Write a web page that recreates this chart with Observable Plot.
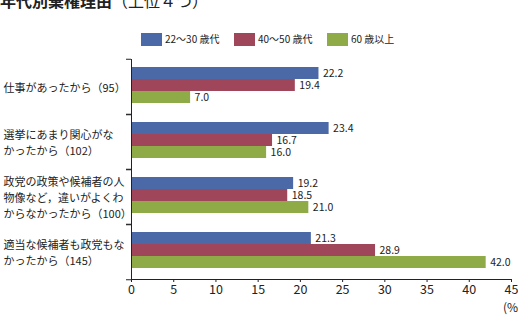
<!DOCTYPE html>
<html>
<head>
<meta charset="utf-8">
<script src="https://cdn.jsdelivr.net/npm/d3@7"></script>
<script src="https://cdn.jsdelivr.net/npm/@observablehq/plot@0.6"></script>
<style>
  html, body { margin: 0; padding: 0; background: #fff; }
  #chart { position: relative; width: 518px; height: 322px; overflow: hidden;
           font-family: "Noto Sans CJK JP", "Noto Sans", sans-serif; color: #222; }
  #chart svg { position: absolute; left: 0; top: 0; }
  .title { position: absolute; left: 0; top: -8px; font-size: 16px; line-height: 16px;
           font-weight: bold; white-space: nowrap; }
  .title span { font-weight: normal; }
  .legend { position: absolute; top: 32px; left: 0; font-size: 10px; line-height: 14px; }
  .legend .item { position: absolute; white-space: nowrap; display: flex; align-items: center; }
  .legend .sw { display: inline-block; width: 21px; height: 13px; margin-right: 3px; }
  .unit { position: absolute; left: 503px; top: 300px; font-size: 12px; line-height: 14px; }
</style>
</head>
<body>
<div id="chart">
  <div class="title">年代別棄権理由<span>（上位４つ）</span></div>
  <div class="legend" id="legend"></div>
  <div class="unit">(%)</div>
</div>
<script>
// Reasons for abstaining (top four), share by age group
const categories = [
  "仕事があったから（95）",
  "選挙にあまり関心がな\nかったから（102）",
  "政党の政策や候補者の人\n物像など，違いがよくわ\nからなかったから（100）",
  "適当な候補者も政党もな\nかったから（145）"
];
const series = ["22～30 歳代", "40～50 歳代", "60 歳以上"];
const age22to30 = [22.2, 23.4, 19.2, 21.3];
const age40to50 = [19.4, 16.7, 18.5, 28.9];
const age60plus = [7.0, 16.0, 21.0, 42.0];
const colors = ["#4b69a6", "#a0465b", "#8fab48"];
const xTicks = [0, 5, 10, 15, 20, 25, 30, 35, 40, 45];

const valuesBySeries = [age22to30, age40to50, age60plus];
const rows = [];
series.forEach((s, si) => {
  categories.forEach((c, ci) => {
    rows.push({category: c, series: s, value: valuesBySeries[si][ci]});
  });
});

// legend
const legend = document.getElementById("legend");
const legendLeft = [141, 234, 327];
series.forEach((s, i) => {
  const item = document.createElement("div");
  item.className = "item";
  item.style.left = legendLeft[i] + "px";
  item.innerHTML = `<span class="sw" style="background:${colors[i]}"></span><span>${s}</span>`;
  legend.appendChild(item);
});

const facetHeight = (322 - 58 - 42) / categories.length;

const chart = Plot.plot({
  width: 518,
  height: 322,
  marginTop: 58,
  marginBottom: 42,
  marginLeft: 131,
  marginRight: 7,
  style: {fontFamily: '"Noto Sans CJK JP", "Noto Sans", sans-serif', color: "#222", background: "transparent"},
  x: {domain: [0, 45], ticks: xTicks, label: null},
  fy: {domain: categories, padding: 0, label: null},
  y: {domain: series, paddingInner: 0, paddingOuter: 0.635, align: 0.4, axis: null},
  color: {domain: series, range: colors},
  marks: [
    Plot.barX(rows, {fy: "category", y: "series", x: "value", fill: "series"}),
    Plot.text(rows, {fy: "category", y: "series", x: "value", text: d => d.value.toFixed(1),
      textAnchor: "start", dx: 4, fontSize: 10.5, fill: "#222"}),
    Plot.text(categories, {fy: d => d, text: d => d, frameAnchor: "left", textAnchor: "start",
      dx: -128, fontSize: 11, lineHeight: 1.45, fill: "#222"}),
    Plot.ruleX([0], {stroke: "#222", strokeWidth: 1}),
    Plot.axisFy({anchor: "left", text: null, label: null, tickSize: 5, dy: -facetHeight / 2, stroke: "#222"}),
    Plot.axisFy({anchor: "left", text: null, label: null, tickSize: 5, dy: facetHeight / 2, stroke: "#222"}),
    Plot.axisX({ticks: xTicks, tickSize: 3, tickPadding: 3, fontSize: 12.5, label: null, stroke: "#222", fill: "#222"}),
    Plot.frame({anchor: "bottom", facet: "super", stroke: "#222"})
  ]
});
document.getElementById("chart").prepend(chart);
</script>
</body>
</html>
